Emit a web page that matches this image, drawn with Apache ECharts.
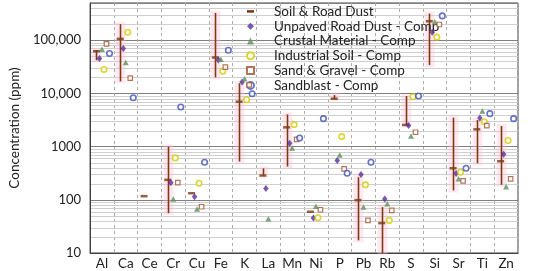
<!DOCTYPE html>
<html><head><meta charset="utf-8">
<script src="https://cdn.jsdelivr.net/npm/echarts@6/dist/echarts.min.js"></script>
<style>html,body{margin:0;padding:0;background:#fff}#c{width:550px;height:271px}</style>
</head><body><div id="c"></div>
<script>
const categories = ['Al','Ca','Ce','Cr','Cu','Fe','K','La','Mn','Ni','P','Pb','Rb','S','Si','Sr','Ti','Zn'];
const soilValue = [62000,106000,117,237,133,47300,6980,286,2300,59.6,7940,98.5,36.5,2550,227000,392,2110,531];
const soilLow   = [42000,16800,null,56,null,20000,525,286,422,null,7940,17.3,10,2550,34000,150,487,191];
const soilHigh  = [65000,200000,null,1000,null,325000,15500,390,4040,null,9300,266,72.9,8910,316000,3500,3160,2440];
const unpaved   = [45300,69800,null,208,114,42200,16300,163,1155,45.3,546,299,103,2480,141000,312,3450,718];
const crustal   = [67700,38000,null,104,66.8,44000,18800,44,944,76,698,72.9,84,1585,222000,248,4660,175];
const industrial= [28200,141000,null,613,205,26200,7600,null,2590,46,1540,191,41,8660,114000,330,2940,1300];
const sandGravel= [85300,19400,null,211,74,31200,14500,null,1370,65,381,41,63,1860,197000,227,2480,248];
const sandblast = [56200,8300,null,5540,508,64900,9860,null,1450,3350,316,508,null,8910,286000,392,4160,3350];
const minorGrid = [20,30,40,50,60,70,80,90,200,300,400,500,600,700,800,900,2000,3000,4000,5000,6000,7000,8000,9000,20000,30000,40000,50000,60000,70000,80000,90000,200000,300000,400000];
const yTickLabels = {10:'10',100:'100',1000:'1000',10000:'10,000',100000:'100,000'};

const FONT = 'Lato';
function pts(arr){ const out=[]; arr.forEach((v,i)=>{ if(v!=null) out.push([i,v]); }); return out; }
const rangeData = [];
categories.forEach((c,i)=>{ if(soilLow[i]!=null && soilHigh[i]!=null) rangeData.push([i,soilLow[i],soilHigh[i]]); });

const chart = echarts.init(document.getElementById('c'));
chart.setOption({
  animation:false,
  textStyle:{fontFamily:FONT},
  grid:{left:62,right:32,top:3,bottom:18,show:true,borderColor:'#404040',borderWidth:1,backgroundColor:'transparent'},
  legend:{
    orient:'vertical', left:241, top:-1, itemWidth:7, itemHeight:7, itemGap:0,
    textStyle:{fontFamily:FONT,fontSize:13.5,color:'#222',lineHeight:14.8,padding:[0,0,0,15]},
    data:[
      {name:'Soil & Road Dust', icon:'path://M0,0 L7,0 L7,2.5 L0,2.5 Z', itemStyle:{color:'#7A3812'}},
      {name:'Unpaved Road Dust - Comp', icon:'diamond'},
      {name:'Crustal Material - Comp', icon:'triangle'},
      {name:'Industrial Soil - Comp', icon:'circle'},
      {name:'Sand & Gravel - Comp', icon:'rect'},
      {name:'Sandblast - Comp', icon:'circle'}
    ]
  },
  xAxis:{
    type:'category', data:categories, boundaryGap:true,
    axisLine:{show:true,lineStyle:{color:'#404040'}},
    axisTick:{show:false},
    axisLabel:{fontFamily:FONT,fontSize:13.5,color:'#222',margin:4,interval:0},
    splitLine:{show:true,interval:0,lineStyle:{color:'#aaaaaa',type:[3,3],width:1}}
  },
  yAxis:{
    type:'log', logBase:10, min:10, max:500000,
    name:'Concentration (ppm)', nameLocation:'middle', nameGap:47,
    nameTextStyle:{fontFamily:FONT,fontSize:13.5,color:'#222'},
    axisLine:{show:true,lineStyle:{color:'#404040'}},
    axisTick:{show:false},
    axisLabel:{fontFamily:FONT,fontSize:13,color:'#222',margin:9,
      formatter:v=>{ const r=Math.round(v); return yTickLabels[r]!==undefined && Math.abs(v-r)<1e-6 ? yTickLabels[r] : ''; }},
    splitLine:{show:true,lineStyle:{color:'#808080',width:1}}
  },
  series:[
    {
      type:'custom', name:'minor', silent:true, z:0, legendHoverLink:false,
      data:minorGrid.map(v=>[0,v]),
      renderItem:(params,api)=>{
        const p = api.coord([0, api.value(1)]);
        const cs = params.coordSys;
        return {type:'line', shape:{x1:cs.x, y1:Math.round(p[1])+0.5, x2:cs.x+cs.width, y2:Math.round(p[1])+0.5},
          style:{stroke:'#cfcfcf', lineWidth:1}};
      },
      encode:{x:0,y:1}, tooltip:{show:false}
    },
    {
      type:'custom', name:'Soil & Road Dust', z:2,
      data:rangeData,
      renderItem:(params,api)=>{
        const lo = api.coord([api.value(0), api.value(1)]);
        const hi = api.coord([api.value(0), api.value(2)]);
        const x = Math.round(lo[0]-5.5)+0.5;
        return {type:'group', children:[
          {type:'rect', shape:{x:x-5, y:hi[1]-2, width:10, height:lo[1]-hi[1]+4}, style:{fill:'rgba(255,190,210,0.35)'}},
          {type:'line', shape:{x1:x, y1:hi[1], x2:x, y2:lo[1]}, style:{stroke:'#7F3814', lineWidth:1.6}}
        ]};
      },
      encode:{x:0,y:[1,2]}
    },
    {type:'scatter', name:'Soil & Road Dust', z:3, data:pts(soilValue), symbol:'rect', symbolSize:[7,2.5], symbolOffset:[-5.5,0], itemStyle:{color:'#7A3812'}},
    {type:'scatter', name:'Unpaved Road Dust - Comp', z:4, data:pts(unpaved), symbol:'diamond', symbolSize:[5.5,7], symbolOffset:[-2.5,0], itemStyle:{color:'#5A2D9C'}},
    {type:'scatter', name:'Crustal Material - Comp', z:4, data:pts(crustal), symbol:'triangle', symbolSize:[6,5.5], symbolOffset:[0,0], itemStyle:{color:'#5B8F5B'}},
    {type:'scatter', name:'Industrial Soil - Comp', z:4, data:pts(industrial), symbol:'circle', symbolSize:5.5, symbolOffset:[2,0], itemStyle:{color:'#ffffff',borderColor:'#D4CB00',borderWidth:1.6}},
    {type:'scatter', name:'Sand & Gravel - Comp', z:4, data:pts(sandGravel), symbol:'rect', symbolSize:4.5, symbolOffset:[4.5,0], itemStyle:{color:'#ffffff',borderColor:'#A0522D',borderWidth:1.2}},
    {type:'scatter', name:'Sandblast - Comp', z:4, data:pts(sandblast), symbol:'circle', symbolSize:5.5, symbolOffset:[7.5,0], itemStyle:{color:'#ffffff',borderColor:'#3F51B5',borderWidth:1.6}}
  ]
});
</script></body></html>
